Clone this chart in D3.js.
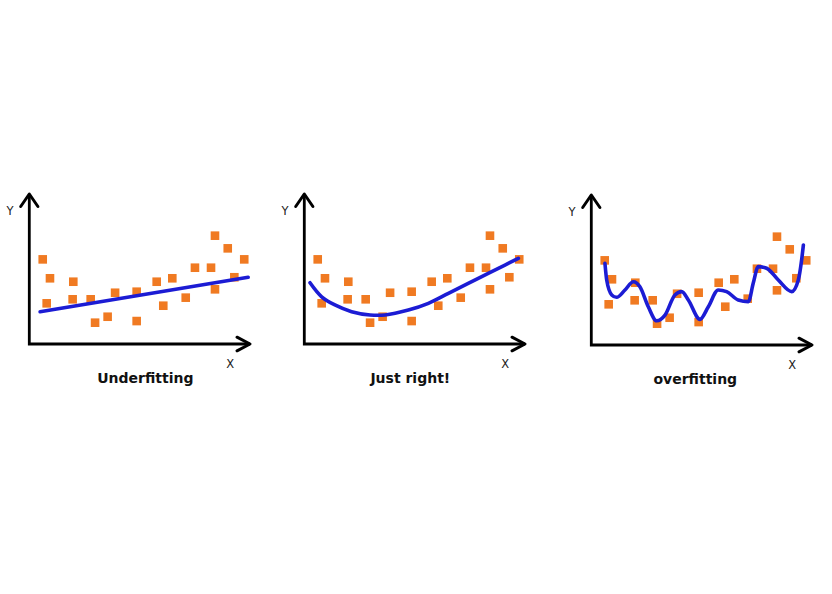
<!DOCTYPE html>
<html>
<head>
<meta charset="utf-8">
<script src="https://cdn.jsdelivr.net/npm/d3@7"></script>
<style>
  html, body { margin: 0; padding: 0; background: #ffffff; }
  svg { display: block; }
</style>
</head>
<body>
<svg id="chart" width="832" height="594"></svg>
<script>
// ---- Data (shared noisy sample, x and y in abstract units 0..10) ----
const pointX = [0.61, 0.94, 0.79, 2.00, 1.97, 2.79, 2.99, 3.56, 3.90, 4.88, 4.88,
                5.79, 6.09, 6.50, 7.11, 7.53, 8.26, 8.44, 8.44, 9.02, 9.32, 9.77];
const pointY = [5.68, 4.41, 2.73, 4.18, 3.00, 3.00, 1.43, 1.83, 3.44, 3.51, 1.54,
                4.18, 2.57, 4.41, 3.11, 5.12, 5.12, 3.67, 7.27, 6.42, 4.48, 5.68];

// Fitted models
const underX = [0.49, 9.95];
const underY = [2.17, 4.48];

const rightX = [0.26, 0.79, 1.39, 2.15, 2.99, 3.67, 4.73, 5.64, 6.55, 7.45, 8.36, 9.12, 9.73];
const rightY = [4.11, 3.17, 2.62, 2.17, 1.95, 1.95, 2.28, 2.73, 3.40, 4.07, 4.74, 5.30, 5.75];

const overX = [0.62, 0.70, 0.93, 1.15, 1.53, 1.91, 2.21, 2.59, 2.97, 3.35, 3.80, 4.11, 4.41,
               4.94, 5.32, 5.77, 6.15, 6.68, 7.14, 7.36, 7.59, 7.97, 8.50, 9.11, 9.41, 9.56, 9.64];
const overY = [5.48, 4.36, 3.36, 3.20, 3.69, 4.25, 3.91, 2.57, 1.63, 2.01, 3.36, 3.58, 3.02,
               1.72, 2.57, 3.69, 3.58, 3.02, 2.91, 4.14, 5.26, 5.15, 4.36, 3.58, 4.36, 5.70, 6.71];

const titles = ["Underfitting", "Just right!", "overfitting"];
const axisLabels = ["X", "Y"];

// ---- Layout (not data) ----
const panels = [
  { ox: 29.3,  oy: 344, titleDx: 116, fx: underX, fy: underY, curve: d3.curveLinear },
  { ox: 304.3, oy: 344, titleDx: 106, fx: rightX, fy: rightY, curve: d3.curveCatmullRom },
  { ox: 591.3, oy: 345, titleDx: 104, fx: overX,  fy: overY,  curve: d3.curveMonotoneX }
];
const axisW = 220.7, axisH = 150;
const unitW = 220, unitH = 149;

const svg = d3.select("#chart");
const orange = "#f07a22";
const blue = "#1c1cd4";

panels.forEach((p, i) => {
  const g = svg.append("g").attr("transform", `translate(${p.ox},${p.oy})`);
  const x = d3.scaleLinear().domain([0, 10]).range([0, unitW]);
  const y = d3.scaleLinear().domain([0, 10]).range([0, -unitH]);

  // axes
  g.append("path")
    .attr("d", `M0,${-axisH} L0,0 L${axisW},0`)
    .attr("fill", "none").attr("stroke", "#000").attr("stroke-width", 2.8)
    .attr("stroke-linejoin", "miter");
  // Y arrowhead
  g.append("path")
    .attr("d", `M-8.6,${-axisH + 12.5} L0,${-axisH} L8.6,${-axisH + 12.5}`)
    .attr("fill", "none").attr("stroke", "#000").attr("stroke-width", 3)
    .attr("stroke-linecap", "round").attr("stroke-linejoin", "round");
  // X arrowhead
  g.append("path")
    .attr("d", `M${axisW - 13},-6.8 L${axisW},0 L${axisW - 13},6.8`)
    .attr("fill", "none").attr("stroke", "#000").attr("stroke-width", 3)
    .attr("stroke-linecap", "round").attr("stroke-linejoin", "round");

  // axis labels
  g.append("text").text(axisLabels[1])
    .attr("x", -19.3).attr("y", -129.5)
    .attr("text-anchor", "middle")
    .attr("font-family", "DejaVu Sans, sans-serif").attr("font-size", 11.5)
    .attr("fill", "#222");
  g.append("text").text(axisLabels[0])
    .attr("x", 201).attr("y", 24.3)
    .attr("text-anchor", "middle")
    .attr("font-family", "DejaVu Sans, sans-serif").attr("font-size", 11.5)
    .attr("fill", "#222");

  // points
  const pts = pointX.map((v, k) => [v, pointY[k]]);
  const s = 8.6;
  g.selectAll("rect.pt").data(pts).enter().append("rect")
    .attr("class", "pt")
    .attr("x", d => x(d[0]) - s / 2)
    .attr("y", d => y(d[1]) - s / 2)
    .attr("width", s).attr("height", s)
    .attr("fill", orange);

  // model curve
  const line = d3.line().x(d => x(d[0])).y(d => y(d[1])).curve(p.curve);
  const fit = p.fx.map((v, k) => [v, p.fy[k]]);
  g.append("path").datum(fit)
    .attr("d", line)
    .attr("fill", "none").attr("stroke", blue).attr("stroke-width", 3.6)
    .attr("stroke-linecap", "round").attr("stroke-linejoin", "round");

  // title
  g.append("text").text(titles[i])
    .attr("x", p.titleDx).attr("y", 38.5)
    .attr("text-anchor", "middle")
    .attr("font-family", "DejaVu Sans, sans-serif").attr("font-weight", "bold")
    .attr("font-size", 14).attr("fill", "#111");
});
</script>
</body>
</html>
